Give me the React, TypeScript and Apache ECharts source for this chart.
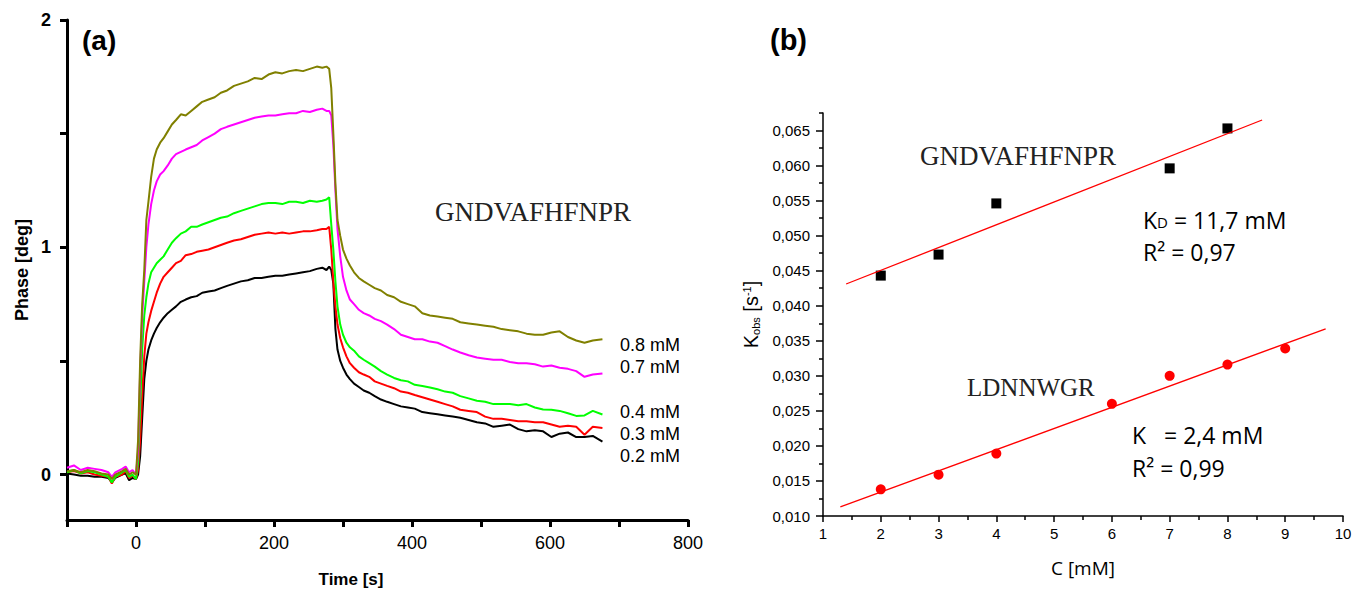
import React, { useEffect, useRef } from "react";
import * as echarts from "echarts";

// ---------- Panel (a): phase vs time ----------
const TIME = [
  -100, -90, -80, -70, -60, -50, -40, -35, -30, -20, -15, -10, -5, 0,
  3, 6, 9, 12, 15, 18, 22, 26, 30, 35, 40, 46,
  52, 58, 65, 72, 80, 88, 96, 105, 114, 123, 132, 142, 152, 162, 172, 182, 192, 202, 212, 222,
  232, 242, 252, 262, 270, 276, 280, 283,
  286, 289, 292, 296, 300, 305, 310, 316, 323, 330, 338, 346, 355, 364,
  374, 384, 394, 404, 415, 426, 437, 448, 459, 470, 482, 494, 506, 518, 530, 542, 554, 566, 578, 590, 602, 614, 626, 638, 650, 662, 676,
];

const PHASE_08 = [
  0.015, 0.02, 0.01, 0.02, 0.015, 0.005, 0.0, -0.02, 0.0, 0.015, 0.025, 0.0, 0.01, 0.0,
  0.15, 0.5, 0.75, 0.9, 1.12, 1.2, 1.31, 1.39, 1.43, 1.46, 1.48, 1.51,
  1.54, 1.56, 1.585, 1.58, 1.6, 1.62, 1.64, 1.65, 1.66, 1.68, 1.69, 1.71, 1.72, 1.73, 1.745, 1.74, 1.76, 1.77, 1.765, 1.775,
  1.78, 1.775, 1.785, 1.795, 1.79, 1.795, 1.785, 1.7,
  1.5, 1.28, 1.12, 1.05, 0.99, 0.95, 0.92, 0.89, 0.865, 0.85, 0.835, 0.82, 0.81, 0.79,
  0.78, 0.76, 0.75, 0.74, 0.71, 0.7, 0.695, 0.69, 0.685, 0.67, 0.665, 0.66, 0.655, 0.65, 0.64, 0.635, 0.63, 0.62, 0.615, 0.615, 0.625, 0.63, 0.605, 0.59, 0.58, 0.59, 0.595,
];

const PHASE_07 = [
  0.03, 0.04, 0.02, 0.03, 0.025, 0.02, 0.01, -0.01, 0.01, 0.025, 0.035, 0.01, 0.02, 0.0,
  0.1, 0.45, 0.7, 0.85, 1.0, 1.1, 1.19, 1.25, 1.29, 1.32, 1.335, 1.36,
  1.39, 1.41, 1.42, 1.43, 1.44, 1.45, 1.47, 1.485, 1.5, 1.52, 1.53, 1.54, 1.55, 1.56, 1.57, 1.575, 1.58, 1.58, 1.585, 1.59,
  1.59, 1.6, 1.595, 1.605, 1.61, 1.6, 1.6, 1.58,
  1.45, 1.25, 1.08, 0.96, 0.87, 0.81, 0.77, 0.75, 0.725, 0.71, 0.7, 0.685, 0.675, 0.66,
  0.64, 0.615, 0.605, 0.595, 0.595, 0.585, 0.58, 0.565, 0.55, 0.537, 0.525, 0.515, 0.51, 0.505, 0.505, 0.495, 0.49, 0.49, 0.485, 0.475, 0.48, 0.47, 0.465, 0.455, 0.43, 0.44, 0.445,
];

const PHASE_04 = [
  0.01, 0.02, 0.005, 0.015, 0.01, 0.0, -0.01, -0.035, -0.01, 0.01, 0.02, -0.01, 0.0, -0.02,
  0.05, 0.3, 0.55, 0.7, 0.78, 0.84, 0.89, 0.91, 0.93, 0.945, 0.96, 0.99,
  1.02, 1.04, 1.06, 1.07, 1.09, 1.09, 1.1, 1.11, 1.12, 1.13, 1.135, 1.15, 1.16, 1.17, 1.18, 1.19, 1.195, 1.195, 1.19, 1.2,
  1.2, 1.195, 1.205, 1.2, 1.205, 1.21, 1.22, 1.1,
  0.99, 0.85, 0.74, 0.66, 0.615, 0.58, 0.56, 0.545, 0.52, 0.505, 0.49, 0.475, 0.455, 0.44,
  0.425, 0.415, 0.41, 0.395, 0.39, 0.383, 0.375, 0.365, 0.36, 0.345, 0.335, 0.325, 0.32, 0.31, 0.31, 0.31, 0.305, 0.31, 0.295, 0.286, 0.285, 0.28, 0.27, 0.258, 0.26, 0.28, 0.264,
];

const PHASE_03 = [
  0.01, 0.015, 0.005, 0.01, 0.0, -0.005, -0.01, -0.04, -0.01, 0.0, 0.015, -0.015, -0.005, -0.02,
  0.02, 0.15, 0.35, 0.52, 0.62, 0.67, 0.72, 0.76, 0.8, 0.84, 0.87, 0.89,
  0.91, 0.93, 0.94, 0.965, 0.97, 0.98, 0.985, 0.99, 1.0, 1.01, 1.02, 1.03, 1.035, 1.045, 1.055, 1.06, 1.065, 1.06, 1.065, 1.06,
  1.065, 1.07, 1.07, 1.075, 1.08, 1.08, 1.09, 0.99,
  0.85, 0.74, 0.66, 0.6, 0.56, 0.52, 0.49, 0.47, 0.45, 0.44, 0.43, 0.41, 0.4, 0.39,
  0.38, 0.365, 0.36, 0.35, 0.34, 0.33, 0.32, 0.31, 0.3, 0.285, 0.28, 0.275, 0.255, 0.245, 0.245, 0.24, 0.235, 0.235, 0.23, 0.23, 0.22, 0.21, 0.215, 0.21, 0.175, 0.21, 0.205,
];

const PHASE_02 = [
  0.005, 0.0, -0.005, -0.005, -0.01, -0.01, -0.015, -0.035, -0.015, 0.0, 0.005, -0.025, -0.015, -0.02,
  0.0, 0.08, 0.25, 0.42, 0.5, 0.55, 0.59, 0.62, 0.645, 0.67, 0.69, 0.71,
  0.725, 0.74, 0.76, 0.77, 0.78, 0.785, 0.8, 0.805, 0.81, 0.82, 0.83, 0.84, 0.85, 0.855, 0.865, 0.865, 0.87, 0.875, 0.875, 0.88,
  0.885, 0.89, 0.895, 0.905, 0.91, 0.9, 0.915, 0.9,
  0.84, 0.64, 0.55, 0.5, 0.47, 0.44, 0.42, 0.4, 0.385, 0.37, 0.36, 0.345, 0.33, 0.32,
  0.31, 0.3, 0.295, 0.29, 0.275, 0.27, 0.265, 0.26, 0.255, 0.25, 0.24, 0.23, 0.225, 0.21, 0.215, 0.22, 0.2, 0.19, 0.195, 0.19, 0.165, 0.18, 0.185, 0.165, 0.165, 0.17, 0.145,
];

const CONC_LABELS = ["0.8 mM", "0.7 mM", "0.4 mM", "0.3 mM", "0.2 mM"];
const A_X_LABELS = [0, 200, 400, 600, 800];
const A_X_TICKS = [-100, 0, 100, 200, 300, 400, 500, 600, 700, 800];
const A_Y_LABELS = [0, 1, 2];
const A_Y_TICKS = [0, 0.5, 1, 1.5, 2];

// ---------- Panel (b): Kobs vs concentration ----------
const C_GND = [2, 3, 4, 7, 8];
const K_GND = [0.0443, 0.0473, 0.0546, 0.0596, 0.0653];
const C_LDN = [2, 3, 4, 6, 7, 8, 9];
const K_LDN = [0.0138, 0.0159, 0.0189, 0.026, 0.03, 0.0316, 0.0339];
const FIT_GND_C = [1.4, 8.6];
const FIT_GND_K = [0.0431, 0.0665];
const FIT_LDN_C = [1.3, 9.7];
const FIT_LDN_K = [0.0113, 0.0367];
const B_X_TICKS = [1, 2, 3, 4, 5, 6, 7, 8, 9, 10];
const B_X_MINOR = [1.5, 2.5, 3.5, 4.5, 5.5, 6.5, 7.5, 8.5, 9.5];
const B_Y_LABELS = [0.01, 0.015, 0.02, 0.025, 0.03, 0.035, 0.04, 0.045, 0.05, 0.055, 0.06, 0.065];
const B_Y_MINOR = [0.0125, 0.0175, 0.0225, 0.0275, 0.0325, 0.0375, 0.0425, 0.0475, 0.0525, 0.0575, 0.0625, 0.0675];

const SANS = '"Liberation Sans", Arial, sans-serif';
const HUMAN = '"Open Sans", "Noto Sans", sans-serif';
const SERIF = '"Liberation Serif", "DejaVu Serif", serif';

const zip = (xs: number[], ys: number[]) => xs.map((x, i) => [x, ys[i]]);

export default function App() {
  const ref = useRef<HTMLDivElement>(null);

  useEffect(() => {
    if (!ref.current) return;
    const chart = echarts.init(ref.current, null, { renderer: "svg" });

    const curves = [
      { name: "0.2 mM", data: PHASE_02, color: "#000000" },
      { name: "0.3 mM", data: PHASE_03, color: "#ff0000" },
      { name: "0.4 mM", data: PHASE_04, color: "#00ff00" },
      { name: "0.7 mM", data: PHASE_07, color: "#ff00ff" },
      { name: "0.8 mM", data: PHASE_08, color: "#808000" },
    ];

    const labelYs = [345, 367, 412, 434, 456];

    const option: any = {
      animation: false,
      backgroundColor: "#ffffff",
      grid: [
        { left: 67, top: 20, width: 621, height: 500 },
        { left: 823, top: 113, width: 520, height: 403 },
      ],
      xAxis: [
        {
          type: "value",
          gridIndex: 0,
          position: "bottom",
          min: -100,
          max: 800,
          interval: 100,
          axisLine: { onZero: false, lineStyle: { color: "#000", width: 3 } },
          axisTick: { customValues: A_X_TICKS, length: 7, lineStyle: { color: "#000", width: 3 } },
          axisLabel: {
            customValues: A_X_LABELS,
            fontSize: 18,
            fontFamily: SANS,
            color: "#000",
            margin: 14,
          },
          splitLine: { show: false },
        },
        {
          type: "value",
          gridIndex: 1,
          position: "bottom",
          min: 1,
          max: 10,
          interval: 1,
          name: "C [mM]",
          nameLocation: "middle",
          nameGap: 42,
          nameTextStyle: { fontSize: 19, fontFamily: HUMAN, color: "#000" },
          axisLine: { onZero: false, lineStyle: { color: "#000", width: 1.5 } },
          axisTick: { customValues: B_X_TICKS, length: 6, lineStyle: { color: "#000", width: 1.5 } },
          axisLabel: { customValues: B_X_TICKS, fontSize: 15, fontFamily: SANS, color: "#000", margin: 10 },
          splitLine: { show: false },
        },
        {
          type: "value",
          gridIndex: 1,
          position: "bottom",
          min: 1,
          max: 10,
          axisLine: { show: false, onZero: false },
          axisTick: { customValues: B_X_MINOR, length: 4, lineStyle: { color: "#000", width: 1.5 } },
          axisLabel: { show: false },
          splitLine: { show: false },
        },
      ],
      yAxis: [
        {
          type: "value",
          gridIndex: 0,
          position: "left",
          min: -0.2,
          max: 2,
          name: "Phase [deg]",
          nameLocation: "middle",
          nameGap: 36,
          nameTextStyle: { fontSize: 18, fontWeight: "bold", fontFamily: SANS, color: "#000" },
          axisLine: { onZero: false, lineStyle: { color: "#000", width: 3 } },
          axisTick: { customValues: A_Y_TICKS, length: 7, lineStyle: { color: "#000", width: 3 } },
          axisLabel: {
            customValues: A_Y_LABELS,
            fontSize: 18,
            fontWeight: "bold",
            fontFamily: SANS,
            color: "#000",
            margin: 16,
            formatter: (v: number) => String(Math.round(v)),
          },
          splitLine: { show: false },
        },
        {
          type: "value",
          gridIndex: 1,
          position: "left",
          min: 0.01,
          max: 0.0675,
          interval: 0.005,
          name: "K{sub|obs} [s{sup|-1}]",
          nameLocation: "middle",
          nameGap: 62,
          nameTextStyle: {
            fontSize: 20,
            fontFamily: SANS,
            color: "#000",
            rich: {
              sub: { fontSize: 11, fontFamily: SANS, color: "#000", verticalAlign: "bottom", padding: [6, 0, 0, 0] },
              sup: { fontSize: 11, fontFamily: SANS, color: "#000", verticalAlign: "top", padding: [0, 0, 8, 0] },
            },
          },
          axisLine: { onZero: false, lineStyle: { color: "#000", width: 1.5 } },
          axisTick: { customValues: B_Y_LABELS, length: 7, lineStyle: { color: "#000", width: 1.5 } },
          axisLabel: {
            customValues: B_Y_LABELS,
            fontSize: 15,
            fontFamily: SANS,
            color: "#000",
            margin: 13,
            formatter: (v: number) => v.toFixed(3).replace(".", ","),
          },
          splitLine: { show: false },
        },
        {
          type: "value",
          gridIndex: 1,
          position: "left",
          offset: 0,
          min: 0.01,
          max: 0.0675,
          axisLine: { show: false, onZero: false },
          axisTick: { customValues: B_Y_MINOR, length: 4, lineStyle: { color: "#000", width: 1.5 } },
          axisLabel: { show: false },
          splitLine: { show: false },
        },
      ],
      series: [
        ...curves.map((c) => ({
          type: "line",
          name: c.name,
          xAxisIndex: 0,
          yAxisIndex: 0,
          data: zip(TIME, c.data),
          showSymbol: false,
          symbol: "none",
          lineStyle: { color: c.color, width: 2 },
          itemStyle: { color: c.color },
        })),
        {
          type: "line",
          name: "fit GNDVAFHFNPR",
          xAxisIndex: 1,
          yAxisIndex: 1,
          data: zip(FIT_GND_C, FIT_GND_K),
          symbol: "none",
          lineStyle: { color: "#ff0000", width: 1.3 },
        },
        {
          type: "line",
          name: "fit LDNNWGR",
          xAxisIndex: 1,
          yAxisIndex: 1,
          data: zip(FIT_LDN_C, FIT_LDN_K),
          symbol: "none",
          lineStyle: { color: "#ff0000", width: 1.3 },
        },
        {
          type: "scatter",
          name: "GNDVAFHFNPR",
          xAxisIndex: 1,
          yAxisIndex: 1,
          data: zip(C_GND, K_GND),
          symbol: "rect",
          symbolSize: 10,
          itemStyle: { color: "#000", opacity: 1 },
        },
        {
          type: "scatter",
          name: "LDNNWGR",
          xAxisIndex: 1,
          yAxisIndex: 1,
          data: zip(C_LDN, K_LDN),
          symbol: "circle",
          symbolSize: 10,
          itemStyle: { color: "#ff0000", opacity: 1 },
        },
      ],
      graphic: {
        elements: [
          {
            type: "text",
            x: 82,
            y: 40,
            style: { text: "(a)", fontSize: 28, fontWeight: "bold", fontFamily: SANS, fill: "#000", align: "left", verticalAlign: "middle" },
          },
          {
            type: "text",
            x: 770,
            y: 40,
            style: { text: "(b)", fontSize: 29, fontWeight: "bold", fontFamily: SANS, fill: "#000", align: "left", verticalAlign: "middle" },
          },
          {
            type: "text",
            x: 351,
            y: 579,
            style: { text: "Time [s]", fontSize: 17, fontWeight: "bold", fontFamily: SANS, fill: "#000", align: "center", verticalAlign: "middle" },
          },
          {
            type: "text",
            x: 435,
            y: 212,
            style: { text: "GNDVAFHFNPR", fontSize: 27, fontFamily: SERIF, fill: "#222", align: "left", verticalAlign: "middle" },
          },
          ...CONC_LABELS.map((t, i) => ({
            type: "text",
            x: 620,
            y: labelYs[i],
            style: { text: t, fontSize: 18, fontFamily: SANS, fill: "#000", align: "left", verticalAlign: "middle" },
          })),
          {
            type: "text",
            x: 920,
            y: 156,
            style: { text: "GNDVAFHFNPR", fontSize: 27, fontFamily: SERIF, fill: "#222", align: "left", verticalAlign: "middle" },
          },
          {
            type: "text",
            x: 967,
            y: 387,
            style: { text: "LDNNWGR", fontSize: 25, fontFamily: SERIF, fill: "#222", align: "left", verticalAlign: "middle" },
          },
          {
            type: "text",
            x: 1143,
            y: 220,
            style: {
              text: "K{d|D} = 11,7 mM",
              fontSize: 23,
              fontFamily: HUMAN,
              fill: "#000",
              align: "left",
              verticalAlign: "middle",
              rich: { d: { fontSize: 15, fontFamily: HUMAN, fill: "#000", verticalAlign: "middle", padding: [4, 0, 0, 0] } },
            },
          },
          {
            type: "text",
            x: 1143,
            y: 252,
            style: { text: "R² = 0,97", fontSize: 23, fontFamily: HUMAN, fill: "#000", align: "left", verticalAlign: "middle" },
          },
          {
            type: "text",
            x: 1132,
            y: 435,
            style: { text: "K   = 2,4 mM", fontSize: 23, fontFamily: HUMAN, fill: "#000", align: "left", verticalAlign: "middle" },
          },
          {
            type: "text",
            x: 1132,
            y: 468,
            style: { text: "R² = 0,99", fontSize: 23, fontFamily: HUMAN, fill: "#000", align: "left", verticalAlign: "middle" },
          },
        ],
      },
    };

    chart.setOption(option);
    return () => chart.dispose();
  }, []);

  return (
    <div
      ref={ref}
      style={{ position: "fixed", left: 0, top: 0, width: 1355, height: 590, background: "#fff" }}
    />
  );
}
